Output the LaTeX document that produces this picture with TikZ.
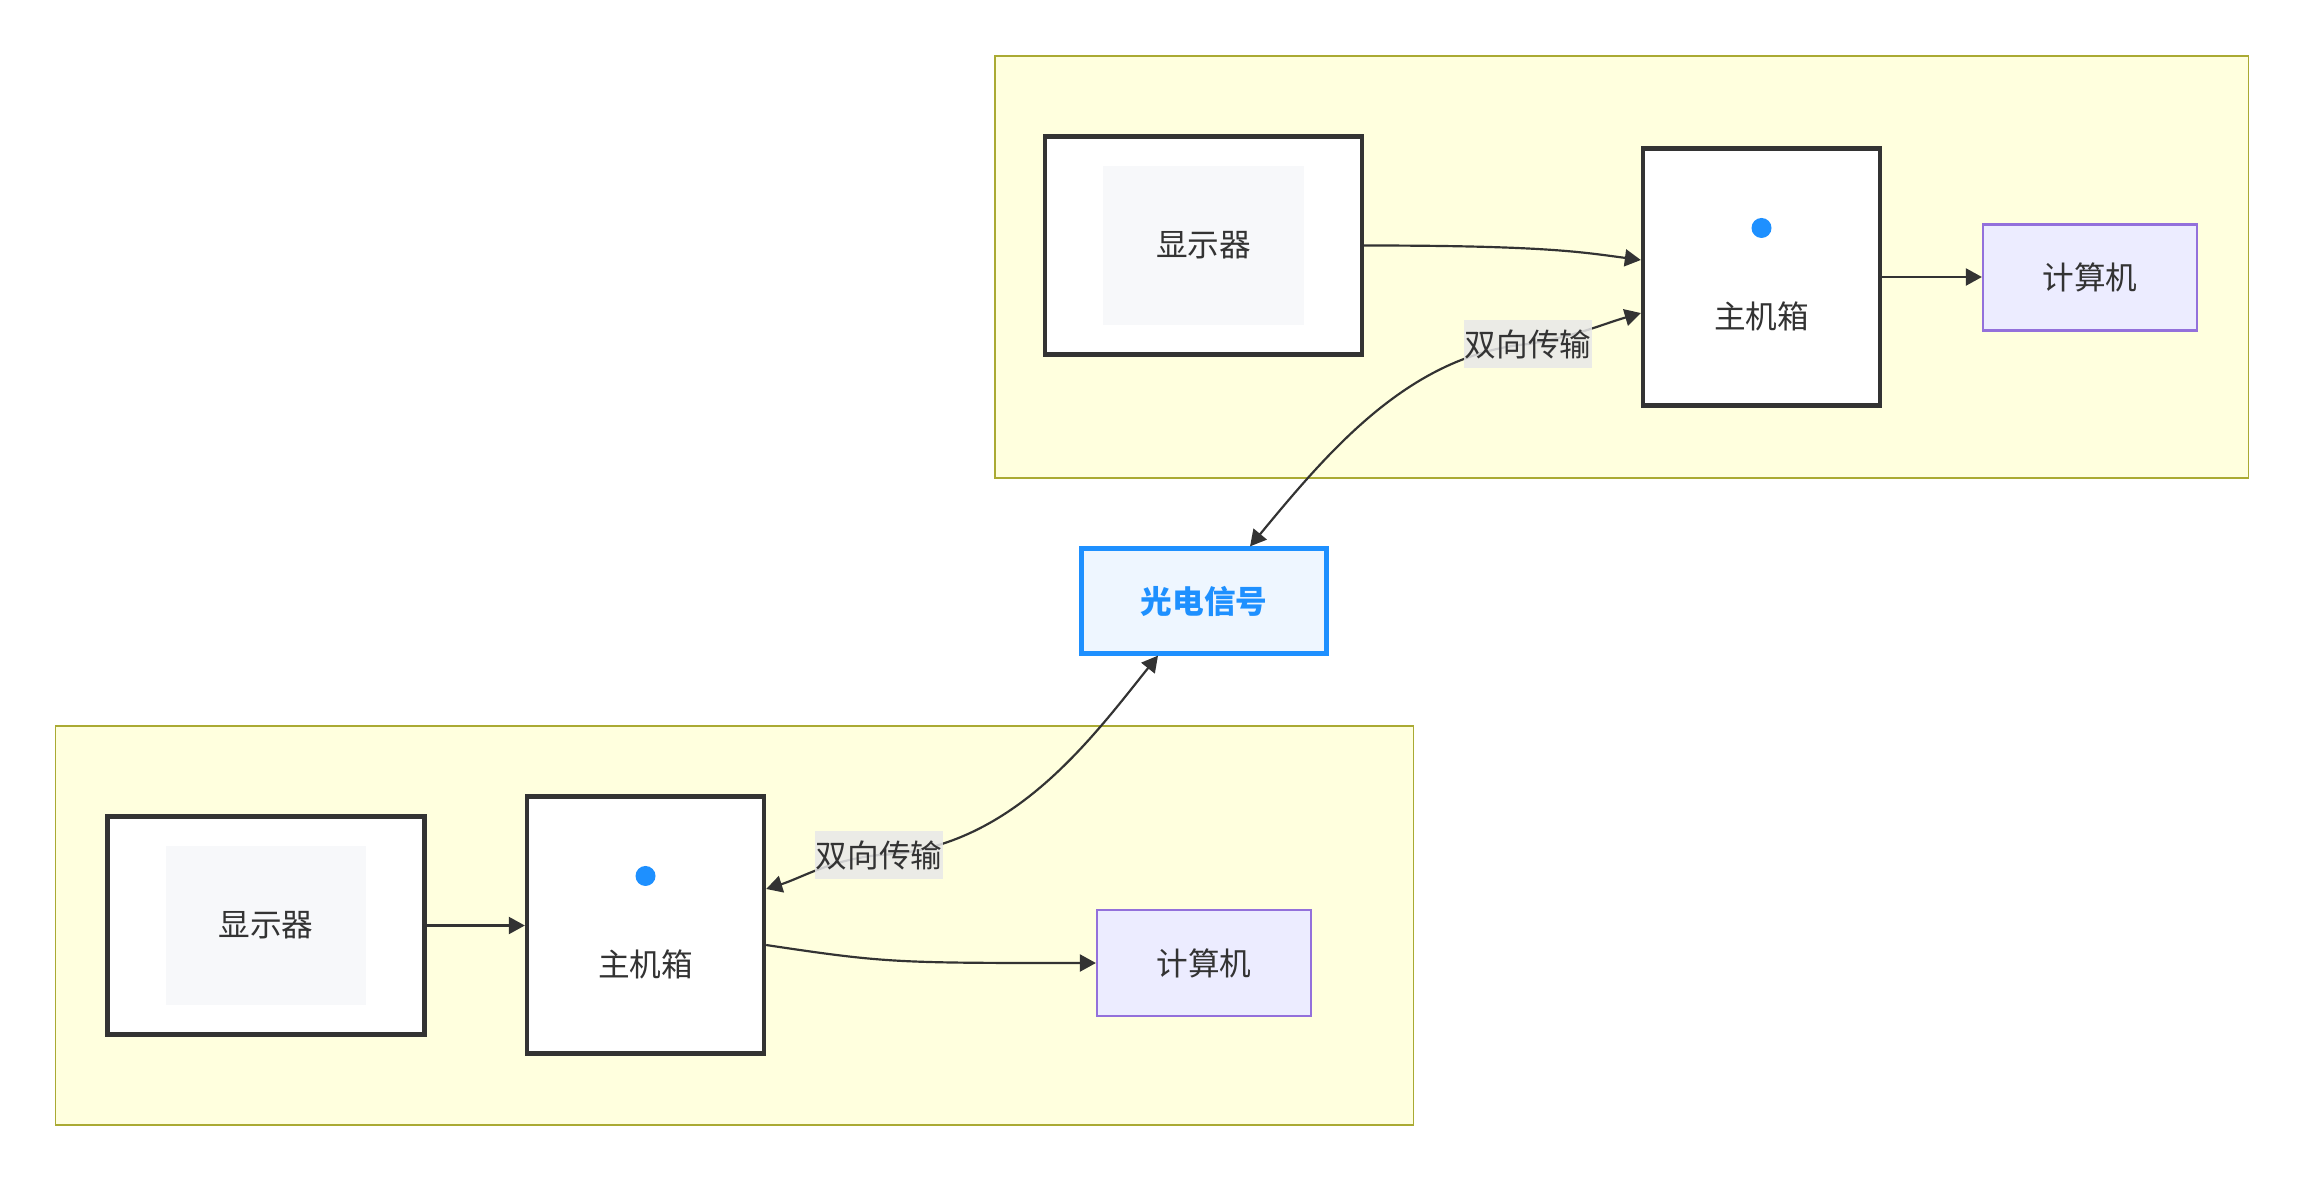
\documentclass[tikz,border=0pt]{standalone}
\usepackage{fontspec}
\setmainfont{Noto Sans CJK SC}
\usetikzlibrary{arrows.meta,positioning}
\definecolor{darkline}{HTML}{333333}
\definecolor{clusterfill}{HTML}{FFFFDE}
\definecolor{clusterline}{HTML}{AAAA33}
\definecolor{panelgray}{HTML}{F7F8FA}
\definecolor{pcfill}{HTML}{ECECFF}
\definecolor{pcline}{HTML}{9370DB}
\definecolor{sigblue}{HTML}{1E90FF}
\definecolor{sigfill}{HTML}{EEF6FF}
\definecolor{notegray}{HTML}{E8E8E8}
\begin{document}
\begin{tikzpicture}[
  x=0.01cm, y=-0.01cm,
  font=\fontsize{9pt}{11pt}\selectfont, text=darkline,
  cluster/.style={draw=clusterline, fill=clusterfill, line width=0.5pt},
  screen/.style={draw=darkline, fill=white, line width=1.2pt,
    minimum width=3.17cm, minimum height=2.18cm},
  panel/.style={fill=panelgray, minimum width=2cm, minimum height=1.59cm},
  host/.style={draw=darkline, fill=white, line width=1.2pt,
    minimum width=2.37cm, minimum height=2.57cm},
  pc/.style={draw=pcline, fill=pcfill, line width=0.6pt,
    minimum width=2.14cm, minimum height=1.06cm},
  signal/.style={draw=sigblue, fill=sigfill, line width=1.2pt, text=sigblue,
    minimum width=2.45cm, minimum height=1.05cm, font=\fontsize{9pt}{11pt}\selectfont\bfseries},
  led/.style={circle, fill=sigblue, inner sep=0pt, minimum size=0.2cm},
  arrow/.style={-{Triangle[length=0.16cm, width=0.17cm]}, line width=0.62pt, draw=darkline},
  twoway/.style={arrow, {Triangle[length=0.16cm, width=0.17cm]}-{Triangle[length=0.16cm, width=0.17cm]}},
  note/.style={fill=notegray, fill opacity=0.85, text opacity=1, inner sep=0.01cm, minimum height=0.48cm}
]
\useasboundingbox (0,0) rectangle (2304,1182);
\node[cluster, minimum width=12.53cm, minimum height=4.22cm] (topgrp) at (1621.5,267) {};
\node[cluster, minimum width=13.57cm, minimum height=3.99cm] (botgrp) at (734.5,925.5) {};

\node[screen] (tm) at (1203.5,245.5) {};
\node[panel] (tmp) at (tm.center) {显示器};
\node[host] (th) at (1761.5,277) {};
\node[led] (thled) at ([yshift=0.49cm]th.center) {};
\node (thtext) at ([yshift=-0.39cm]th.center) {主机箱};
\node[pc] (tc) at (2090,277.5) {计算机};

\node[signal] (sig) at (1204,601) {光电信号};

\node[screen] (bm) at (266,925.5) {};
\node[panel] (bmp) at (bm.center) {显示器};
\node[host] (bh) at (645.5,925) {};
\node[led] (bhled) at ([yshift=0.49cm]bh.center) {};
\node (bhtext) at ([yshift=-0.39cm]bh.center) {主机箱};
\node[pc] (bc) at (1204,963) {计算机};

\coordinate (tmid) at (1528,344);
\coordinate (bmid) at (879,855);

\draw[arrow] (tm.east) .. controls +(180,0) and +(-60,-8) .. ([yshift=0.17cm]th.west);
\draw[arrow] (th.east) -- (th.east -| tc.west);
\draw[twoway] ([xshift=0.46cm]sig.north) .. controls +(80,-97) and +(-118,11) .. (tmid)
  .. controls +(52,-9) and +(-41,12) .. ([yshift=-0.36cm]th.west);
\draw[arrow] (bm.east) -- (bm.east -| bh.west);
\draw[arrow] ([yshift=-0.2cm]bh.east) .. controls +(120,18) and +(-200,0) .. (bc.west);
\draw[twoway] ([xshift=-0.46cm]sig.south) .. controls +(-68,85) and +(131,-5) .. (bmid)
  .. controls +(-49,5) and +(35,-11) .. ([yshift=0.36cm]bh.east);

\node[note] (tnote) at (tmid) {双向传输};
\node[note] (bnote) at (bmid) {双向传输};
\end{tikzpicture}
\end{document}
